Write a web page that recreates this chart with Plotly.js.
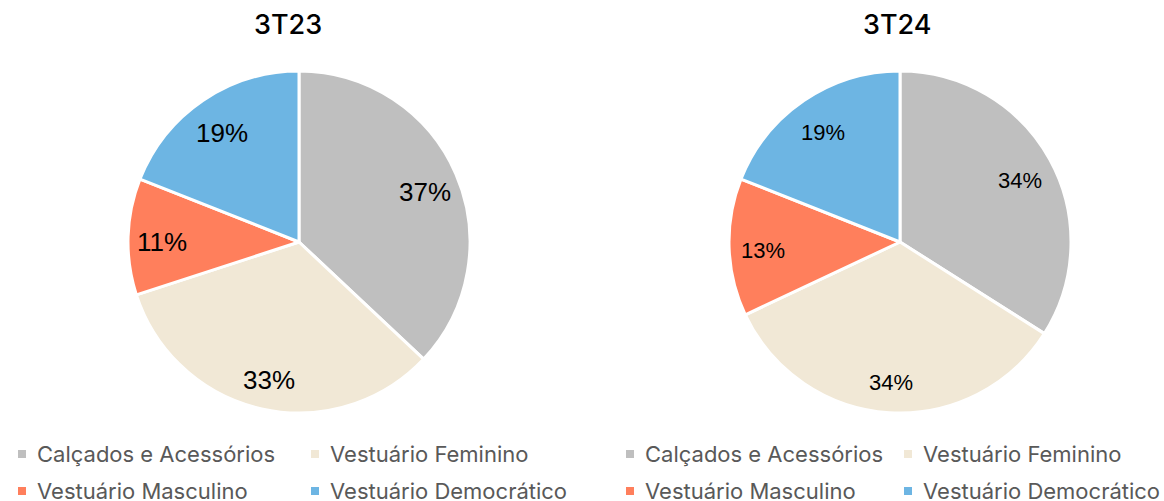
<!DOCTYPE html>
<html>
<head>
<meta charset="utf-8">
<script src="https://cdn.plot.ly/plotly-3.0.1.min.js"></script>
<style>html,body{margin:0;padding:0;background:#fff;}#chart{width:1164px;height:501px;}</style>
</head>
<body>
<div id="chart"></div>
<script>
const categories = ["Calçados e Acessórios", "Vestuário Feminino", "Vestuário Masculino", "Vestuário Democrático"];
const periods = ["3T23", "3T24"];
const values3T23 = [37, 33, 11, 19];
const values3T24 = [34, 34, 13, 19];
const colors = ["#BFBFBF", "#F1E8D6", "#FF7F5C", "#6DB5E3"];

const W = 1164, H = 501;
const px = v => v / W, py = v => 1 - v / H;

// pie geometry (layout): centers and radius in pixels
const pieCx = [299, 900], pieCy = 242, pieR = 171;
const labelFont = [26, 22];
const labelRadius = 0.8;
const labelShiftY = 4;

function pieTrace(vals, k) {
  return {
    type: "pie",
    labels: categories,
    values: vals,
    sort: false,
    direction: "clockwise",
    rotation: 0,
    marker: {colors: colors, line: {color: "#FFFFFF", width: 3}},
    textinfo: "none",
    domain: {x: [px(pieCx[k] - pieR), px(pieCx[k] + pieR)], y: [py(pieCy + pieR), py(pieCy - pieR)]},
    showlegend: false,
    hoverinfo: "label+percent"
  };
}

const series = [values3T23, values3T24];
const data = series.map((v, k) => pieTrace(v, k));

const annotations = [];
const shapes = [];

// percent labels placed at the mid-angle of each slice
series.forEach((vals, k) => {
  const total = vals.reduce((a, b) => a + b, 0);
  let cum = 0;
  vals.forEach(v => {
    const mid = (cum + v / 2) / total * 2 * Math.PI;
    cum += v;
    const x = pieCx[k] + labelRadius * pieR * Math.sin(mid);
    const y = pieCy - labelRadius * pieR * Math.cos(mid) + labelShiftY;
    annotations.push({
      text: Math.round(v / total * 100) + "%", xref: "paper", yref: "paper",
      x: px(x), y: py(y), xanchor: "center", yanchor: "middle", showarrow: false,
      font: {family: "Liberation Sans, Arial, sans-serif", size: labelFont[k], color: "#000000"}
    });
  });
});

const titleX = [288, 897];
periods.forEach((p, k) => {
  annotations.push({
    text: p, xref: "paper", yref: "paper", x: px(titleX[k]), y: py(25),
    xanchor: "center", yanchor: "middle", showarrow: false,
    font: {family: "Inter, sans-serif", size: 27, color: "#000000", weight: 500}
  });
});

// legends below each pie
const legendX0 = [22, 630];
const legendColOffset = [293, 278];
const legendRowY = [454, 491];
legendX0.forEach((lx, k) => {
  categories.forEach((c, i) => {
    const col = i % 2, row = Math.floor(i / 2);
    const mx = lx + col * legendColOffset[k];
    const my = legendRowY[row];
    shapes.push({
      type: "rect", xref: "paper", yref: "paper",
      x0: px(mx - 4), x1: px(mx + 4), y0: py(my + 4), y1: py(my - 4),
      fillcolor: colors[i], line: {width: 0}
    });
    annotations.push({
      text: c, xref: "paper", yref: "paper", x: px(mx + 13), y: py(my),
      xanchor: "left", yanchor: "middle", showarrow: false,
      font: {family: "Inter, sans-serif", size: 22, color: "#595959"}
    });
  });
});

const layout = {
  width: W, height: H,
  margin: {l: 0, r: 0, t: 0, b: 0},
  paper_bgcolor: "#FFFFFF",
  plot_bgcolor: "#FFFFFF",
  showlegend: false,
  annotations: annotations,
  shapes: shapes
};

Plotly.newPlot("chart", data, layout, {displayModeBar: false, staticPlot: true});
</script>
</body>
</html>
